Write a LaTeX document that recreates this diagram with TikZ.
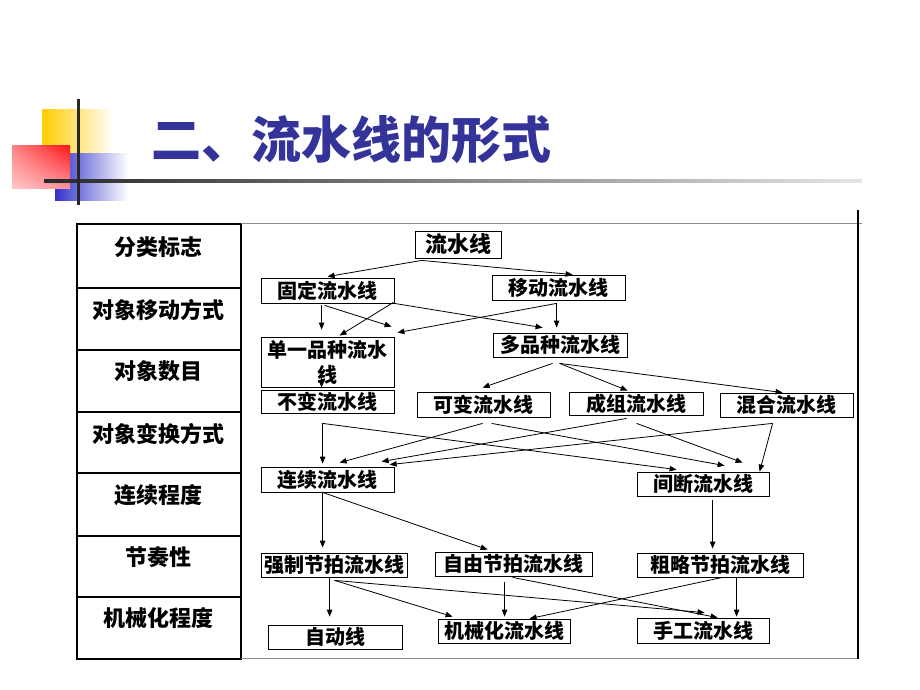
\documentclass[tikz,border=0pt]{standalone}
\usepackage{fontspec}
\setmainfont{Noto Sans CJK SC}
\usetikzlibrary{arrows.meta,calc,shadings}
\definecolor{titleblue}{RGB}{51,51,153}
\definecolor{decoyellow}{RGB}{255,204,0}
\definecolor{decored}{RGB}{255,20,20}
\definecolor{decopink}{RGB}{255,200,200}
\definecolor{decopinkmid}{RGB}{255,130,130}
\definecolor{decopinkbr}{RGB}{255,145,155}
\definecolor{decoblue}{RGB}{51,51,204}
\definecolor{decodark}{RGB}{40,40,40}
\begin{document}
\begin{tikzpicture}[x=1pt,y=-1pt,
  bx/.style={draw,line width=0.8pt,inner sep=0pt,font=\bfseries\fontsize{20}{24}\selectfont},
  lbl/.style={inner sep=0pt,font=\bfseries\fontsize{22}{24}\selectfont},
  arr/.style={line width=0.8pt,-{Triangle[length=7pt,width=5.5pt]}}]
\useasboundingbox (0,0) rectangle (920,690);
\fill[white] (0,0) rectangle (920,690);
% title decoration
\shade[left color=decoyellow, middle color=decoyellow!92!white, right color=white] (42,110) rectangle (113,153);
\shade[left color=decoblue, middle color=decoblue!92!white, right color=white] (55,153) rectangle (128,200);
\shade[shading=bilinear interpolation, upper right=decored, upper left=decopinkmid, lower left=decopink, lower right=decopinkbr] (12,145) rectangle (70,188);
\shade[left color=decodark, middle color=black!50, right color=black!10] (44,179.5) rectangle (862,182.5);
\draw[line width=3pt, decodark] (78,99) -- (78,205);
% title
\node[inner sep=0pt, text=titleblue, font=\bfseries\fontsize{50}{52}\selectfont] (title) at (351,140) {二、流水线的形式};
% table
\draw[line width=1.2pt] (77,288) -- (241,288) (77,350) -- (241,350) (77,412) -- (241,412)
  (77,473) -- (241,473) (77,536) -- (241,536) (77,597) -- (241,597);
\draw[line width=2.5pt] (77,224) rectangle (241,659);
\draw[black!45, line width=1pt] (241,223) -- (862,223);
\draw[black!45, line width=1pt] (241,658) -- (858,658);
\draw[line width=1.5pt] (858,210) -- (858,659);
\node[lbl] (t1) at (158,247) {分类标志};
\node[lbl] (t2) at (158,310) {对象移动方式};
\node[lbl] (t3) at (158,371) {对象数目};
\node[lbl] (t4) at (158,434) {对象变换方式};
\node[lbl] (t5) at (158,495) {连续程度};
\node[lbl] (t6) at (158,557) {节奏性};
\node[lbl] (t7) at (158,618) {机械化程度};
% boxes
\node[bx, minimum width=86, minimum height=27, font=\bfseries\fontsize{22}{24}\selectfont] (ls) at (458,244.5) {流水线};
\node[bx, minimum width=133, minimum height=25] (gd) at (327.5,290.5) {固定流水线};
\node[bx, minimum width=133, minimum height=25] (yd) at (558.5,287.5) {移动流水线};
\node[bx, minimum width=133, minimum height=50, align=center] (dy) at (327.5,362) {单一品种流水\\[1pt]线};
\node[bx, minimum width=134, minimum height=24] (dp) at (560,345) {多品种流水线};
\node[bx, minimum width=133, minimum height=23] (bb) at (327.5,401.5) {不变流水线};
\node[bx, minimum width=133, minimum height=25] (kb) at (483.5,404.5) {可变流水线};
\node[bx, minimum width=134, minimum height=23] (cz) at (636,403.5) {成组流水线};
\node[bx, minimum width=133, minimum height=24] (hh) at (786.5,405) {混合流水线};
\node[bx, minimum width=133, minimum height=25] (lx) at (327.5,479.5) {连续流水线};
\node[bx, minimum width=132, minimum height=24] (jd) at (703,484) {间断流水线};
\node[bx, minimum width=146, minimum height=24] (qz) at (334,565) {强制节拍流水线};
\node[bx, minimum width=157, minimum height=24] (zy) at (513.5,564) {自由节拍流水线};
\node[bx, minimum width=166, minimum height=24] (cl) at (720,565) {粗略节拍流水线};
\node[bx, minimum width=134, minimum height=24] (zd) at (335,637) {自动线};
\node[bx, minimum width=132, minimum height=24] (jx) at (504,631) {机械化流水线};
\node[bx, minimum width=132, minimum height=25] (sg) at (703,630.5) {手工流水线};
% arrows
\draw[arr] ($(ls.south west)+(7,2)$) -- ($(gd.north west)+(67,-1)$);
\draw[arr] ($(ls.south west)+(7,2)$) -- ($(yd.north west)+(81,0)$);
\draw[arr] ($(gd.south west)+(61,2)$) -- ($(dy.north west)+(61,-7)$);
\draw[arr] ($(gd.south west)+(64,2)$) -- ($(dy.north west)+(131,-10)$);
\draw[arr] ($(gd.south east)+(0,0)$) -- ($(dp.north west)+(50,-5)$);
\draw[arr] ($(gd.south east)+(-1,-1)$) -- ($(dy.north west)+(79,-1)$);
\draw[arr] ($(yd.south west)+(65,3)$) -- ($(dy.north east)+(3,-4)$);
\draw[arr] ($(yd.south west)+(65,3)$) -- ($(dp.north west)+(64,-5)$);
\draw[arr] ($(dp.south west)+(60,6)$) -- ($(kb.north west)+(66,-4)$);
\draw[arr] ($(dp.south west)+(67,6)$) -- ($(cz.north west)+(59,-1)$);
\draw[arr] ($(dp.south west)+(67,6)$) -- ($(hh.north west)+(63,0)$);
\draw[arr] ($(dy.south west)+(61,-9)$) -- ($(bb.north west)+(61,-2)$);
\draw[arr] ($(bb.south west)+(62,10)$) -- ($(lx.north west)+(62,-3)$);
\draw[arr] ($(bb.south west)+(62,10)$) -- ($(jd.north west)+(40,-2)$);
\draw[arr] ($(kb.south west)+(66,6)$) -- ($(lx.north west)+(79,-4)$);
\draw[arr] ($(kb.south west)+(75,6)$) -- ($(jd.north west)+(88,-6)$);
\draw[arr] ($(cz.south west)+(58,3)$) -- ($(lx.north west)+(121,-5)$);
\draw[arr] ($(cz.south west)+(68,8)$) -- ($(jd.north west)+(106,-9)$);
\draw[arr] ($(hh.south west)+(53,6)$) -- ($(lx.north west)+(129,-2)$);
\draw[arr] ($(hh.south west)+(53,6)$) -- ($(jd.north west)+(123,0)$);
\draw[arr] ($(lx.south west)+(62,0)$) -- ($(qz.north west)+(62,-5)$);
\draw[arr] ($(lx.south west)+(62,0)$) -- ($(zy.north west)+(53,-2)$);
\draw[arr] ($(jd.south west)+(76,4)$) -- ($(cl.north west)+(76,-4)$);
\draw[arr] ($(qz.south west)+(69,0)$) -- ($(zd.north west)+(62,-8)$);
\draw[arr] ($(qz.south west)+(74,3)$) -- ($(jx.north west)+(15,-2)$);
\draw[arr] ($(qz.south west)+(74,3)$) -- ($(sg.north west)+(68,-5)$);
\draw[arr] ($(zy.south west)+(70,6)$) -- ($(jx.north west)+(67,-2)$);
\draw[arr] ($(zy.south west)+(78,1)$) -- ($(sg.north west)+(81,0)$);
\draw[arr] ($(cl.south west)+(86,0)$) -- ($(jx.north west)+(92,0)$);
\draw[arr] ($(cl.south west)+(100,0)$) -- ($(sg.north west)+(100,-1)$);
\end{tikzpicture}
\end{document}
